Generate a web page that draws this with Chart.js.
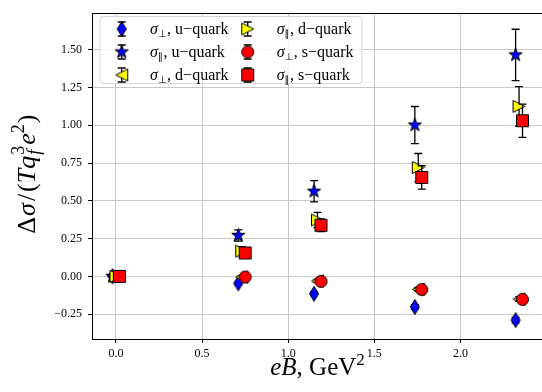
<!DOCTYPE html>
<html>
<head>
<meta charset="utf-8">
<script src="https://cdn.jsdelivr.net/npm/chart.js@4/dist/chart.umd.min.js"></script>
<style>
  html, body { margin: 0; padding: 0; background: #fff; overflow: hidden; }
  #wrap { width: 542px; height: 392px; overflow: hidden; }
</style>
</head>
<body>
<div id="wrap"><canvas id="grafico" width="548" height="392"></canvas></div>
<script>
// eB positions (GeV^2), slightly shifted per quark flavour
const xU = [-0.02, 0.71, 1.15, 1.735, 2.32]
const xD = [0.0, 0.73, 1.17, 1.755, 2.34]
const xS = [0.02, 0.75, 1.19, 1.775, 2.36]

// u-quark
const uPerp = [0.0, -0.046, -0.115, -0.202, -0.289]
const uPerpErr = [0.004, 0.01, 0.012, 0.015, 0.018]
const uPar = [0.0, 0.271, 0.563, 1.001, 1.465]
const uParErr = [0.004, 0.037, 0.07, 0.123, 0.17]

// d-quark
const dPerp = [0.0, -0.005, -0.03, -0.085, -0.15]
const dPerpErr = [0.004, 0.008, 0.01, 0.012, 0.015]
const dPar = [0.0, 0.167, 0.373, 0.72, 1.125]
const dParErr = [0.004, 0.03, 0.05, 0.093, 0.13]

// s-quark
const sPerp = [0.0, -0.004, -0.033, -0.087, -0.152]
const sPerpErr = [0.004, 0.008, 0.01, 0.012, 0.015]
const sPar = [0.0, 0.155, 0.338, 0.655, 1.03]
const sParErr = [0.004, 0.025, 0.042, 0.077, 0.11]

const xTicks = [0.0, 0.5, 1.0, 1.5, 2.0]
const yTicks = [-0.25, 0.0, 0.25, 0.5, 0.75, 1.0, 1.25, 1.5]

const SERIF = '"Liberation Serif", "DejaVu Serif", serif'

// marcadores no estilo do matplotlib
function marcador(forma, cor, w, h) {
  const c = document.createElement('canvas')
  c.width = w + 3
  c.height = h + 3
  const g = c.getContext('2d')
  g.translate(c.width / 2, c.height / 2)
  g.beginPath()
  if (forma === 'circle') {
    g.arc(0, 0, w / 2, 0, Math.PI * 2)
  } else if (forma === 'square') {
    g.rect(-w / 2, -h / 2, w, h)
  } else if (forma === 'diamond') {
    g.moveTo(0, -h / 2); g.lineTo(w / 2, 0); g.lineTo(0, h / 2); g.lineTo(-w / 2, 0)
  } else if (forma === 'left') {
    g.moveTo(-w / 2, 0); g.lineTo(w / 2, -h / 2); g.lineTo(w / 2, h / 2)
  } else if (forma === 'right') {
    g.moveTo(w / 2, 0); g.lineTo(-w / 2, -h / 2); g.lineTo(-w / 2, h / 2)
  } else if (forma === 'star') {
    const R = w / 2, r = R * 0.4
    for (let i = 0; i < 10; i++) {
      const a = -Math.PI / 2 + i * Math.PI / 5
      const rr = i % 2 === 0 ? R : r
      g.lineTo(rr * Math.cos(a), rr * Math.sin(a))
    }
  }
  g.closePath()
  g.fillStyle = cor
  g.fill()
  g.lineWidth = 1
  g.strokeStyle = '#000'
  g.stroke()
  return c
}

const mkDiamond = marcador('diamond', '#0000ff', 9, 15)
const mkStar = marcador('star', '#0000ff', 14, 14)
const mkLeft = marcador('left', '#ffff00', 12, 12)
const mkRight = marcador('right', '#ffff00', 12, 12)
const mkCircle = marcador('circle', '#ff0000', 12, 12)
const mkSquare = marcador('square', '#ff0000', 12, 12)

function pontos(xs, ys) {
  return xs.map((x, i) => ({ x: x, y: ys[i] }))
}

const series = [
  { sub: '⊥', q: 'u', xs: xU, ys: uPerp, err: uPerpErr, mk: mkDiamond },
  { sub: '∥', q: 'u', xs: xU, ys: uPar, err: uParErr, mk: mkStar },
  { sub: '⊥', q: 'd', xs: xD, ys: dPerp, err: dPerpErr, mk: mkLeft },
  { sub: '∥', q: 'd', xs: xD, ys: dPar, err: dParErr, mk: mkRight },
  { sub: '⊥', q: 's', xs: xS, ys: sPerp, err: sPerpErr, mk: mkCircle },
  { sub: '∥', q: 's', xs: xS, ys: sPar, err: sParErr, mk: mkSquare }
]

// desenha texto em pedaços (itálico, sub/sobrescrito)
function larguraRuns(ctx, runs) {
  let w = 0
  runs.forEach(r => {
    ctx.font = r.font
    const rw = r.t ? ctx.measureText(r.t).width : 0
    if (!r.stack) w += rw + (r.gap || 0)
  })
  return w
}

function desenhaRuns(ctx, runs, x, y) {
  let cx = x
  let pend = 0
  runs.forEach(r => {
    ctx.font = r.font
    ctx.fillText(r.t, cx, y + (r.dy || 0))
    const rw = ctx.measureText(r.t).width
    if (r.stack) {
      pend = Math.max(pend, rw)
    } else {
      cx += Math.max(rw, pend) + (r.gap || 0)
      pend = 0
    }
  })
}

function barraErro(ctx, x, yTop, yBot, cap) {
  ctx.beginPath()
  ctx.moveTo(x, yTop); ctx.lineTo(x, yBot)
  ctx.moveTo(x - cap, yTop); ctx.lineTo(x + cap, yTop)
  ctx.moveTo(x - cap, yBot); ctx.lineTo(x + cap, yBot)
  ctx.stroke()
}

const pluginErros = {
  id: 'erros',
  beforeDatasetDraw(chart, args) {
    const ds = chart.data.datasets[args.index]
    const ctx = chart.ctx
    const sx = chart.scales.x, sy = chart.scales.y
    ctx.save()
    ctx.strokeStyle = '#000'
    ctx.lineWidth = 1.3
    ds.data.forEach((p, i) => {
      const px = sx.getPixelForValue(p.x)
      barraErro(ctx, px, sy.getPixelForValue(p.y + ds.err[i]), sy.getPixelForValue(p.y - ds.err[i]), 4)
    })
    ctx.restore()
  }
}

const pluginMolduraTitulos = {
  id: 'moldura',
  afterDraw(chart) {
    const ctx = chart.ctx
    const a = chart.chartArea
    ctx.save()
    // eixos de cima e da direita
    ctx.strokeStyle = '#000'
    ctx.lineWidth = 1
    ctx.beginPath()
    ctx.moveTo(Math.round(a.left) + 0.5, Math.round(a.top) + 0.5)
    ctx.lineTo(Math.round(a.right) + 0.5, Math.round(a.top) + 0.5)
    ctx.lineTo(Math.round(a.right) + 0.5, Math.round(a.bottom) + 0.5)
    ctx.stroke()

    // legenda
    const bx = 100, by = 16.5, bw = 262, bh = 67
    ctx.beginPath()
    ctx.roundRect(bx, by, bw, bh, 3)
    ctx.fillStyle = 'rgba(255,255,255,0.8)'
    ctx.fill()
    ctx.strokeStyle = 'rgba(204,204,204,0.8)'
    ctx.stroke()

    const colX = [121.7, 247.7]
    const txtX = [150, 276.7]
    const rowY = [29, 52, 75]
    ctx.fillStyle = '#000'
    ctx.textBaseline = 'alphabetic'
    ctx.textAlign = 'left'
    series.forEach((s, i) => {
      const col = Math.floor(i / 3), row = i % 3
      const mx = colX[col], my = rowY[row]
      ctx.strokeStyle = '#000'
      ctx.lineWidth = 1.3
      barraErro(ctx, mx, my - 7, my + 7, 4)
      ctx.drawImage(s.mk, mx - s.mk.width / 2, my - s.mk.height / 2)
      ctx.fillStyle = '#000'
      desenhaRuns(ctx, [
        { t: 'σ', font: 'italic 16px ' + SERIF },
        { t: s.sub, font: '10px "DejaVu Sans", sans-serif', dy: 3, gap: 0.5 },
        { t: ', ' + s.q + '−quark', font: '16px ' + SERIF }
      ], txtX[col], my + 4.5)
    })

    // título do eixo x
    const runsX = [
      { t: 'eB', font: 'italic 25px ' + SERIF },
      { t: ', GeV', font: '25px ' + SERIF },
      { t: '2', font: '17px ' + SERIF, dy: -10 }
    ]
    const wx = larguraRuns(ctx, runsX)
    desenhaRuns(ctx, runsX, (a.left + a.right) / 2 - wx / 2, 375)

    // título do eixo y
    const runsY = [
      { t: 'Δ', font: '26px ' + SERIF, gap: 1 },
      { t: 'σ', font: 'italic 26px ' + SERIF, gap: 2 },
      { t: '/', font: '26px ' + SERIF, gap: 2 },
      { t: '(', font: '26px ' + SERIF },
      { t: 'Tq', font: 'italic 26px ' + SERIF, gap: 1 },
      { t: '3', font: '18px ' + SERIF, dy: -11, stack: true },
      { t: 'f', font: 'italic 18px ' + SERIF, dy: 5, gap: 1 },
      { t: 'e', font: 'italic 26px ' + SERIF },
      { t: '2', font: '18px ' + SERIF, dy: -11, gap: 1 },
      { t: ')', font: '26px ' + SERIF }
    ]
    const wy = larguraRuns(ctx, runsY)
    ctx.translate(35, (a.top + a.bottom) / 2)
    ctx.rotate(-Math.PI / 2)
    desenhaRuns(ctx, runsY, -wy / 2, 0)
    ctx.restore()
  }
}

new Chart(document.getElementById('grafico'), {
  type: 'scatter',
  data: {
    datasets: series.map((s, i) => ({
      label: 'sigma ' + s.sub + ' ' + s.q,
      data: pontos(s.xs, s.ys),
      err: s.err,
      pointStyle: s.mk,
      order: series.length - i,
      showLine: false
    }))
  },
  options: {
    responsive: false,
    animation: false,
    events: [],
    layout: { padding: { top: 8, right: 2, left: 0, bottom: 0 } },
    plugins: {
      legend: { display: false },
      tooltip: { enabled: false }
    },
    scales: {
      x: {
        type: 'linear',
        min: -0.139,
        max: 2.479,
        afterBuildTicks: s => { s.ticks = xTicks.map(v => ({ value: v })) },
        afterFit: s => { s.height = 53 },
        ticks: {
          callback: v => v.toFixed(1),
          color: '#000',
          padding: 4,
          maxRotation: 0,
          font: { family: SERIF, size: 12 }
        },
        grid: { color: '#c8c8c8', lineWidth: 1, tickColor: '#000', tickLength: 4 },
        border: { color: '#000', width: 1 }
      },
      y: {
        type: 'linear',
        min: -0.414,
        max: 1.741,
        afterBuildTicks: s => { s.ticks = yTicks.map(v => ({ value: v })) },
        afterFit: s => { s.width = 92 },
        ticks: {
          callback: v => (v < 0 ? '−' : '') + Math.abs(v).toFixed(2),
          color: '#000',
          padding: 6,
          font: { family: SERIF, size: 12 }
        },
        grid: { color: '#c8c8c8', lineWidth: 1, tickColor: '#000', tickLength: 4 },
        border: { color: '#000', width: 1 }
      }
    }
  },
  plugins: [pluginErros, pluginMolduraTitulos]
})
</script>
</body>
</html>
